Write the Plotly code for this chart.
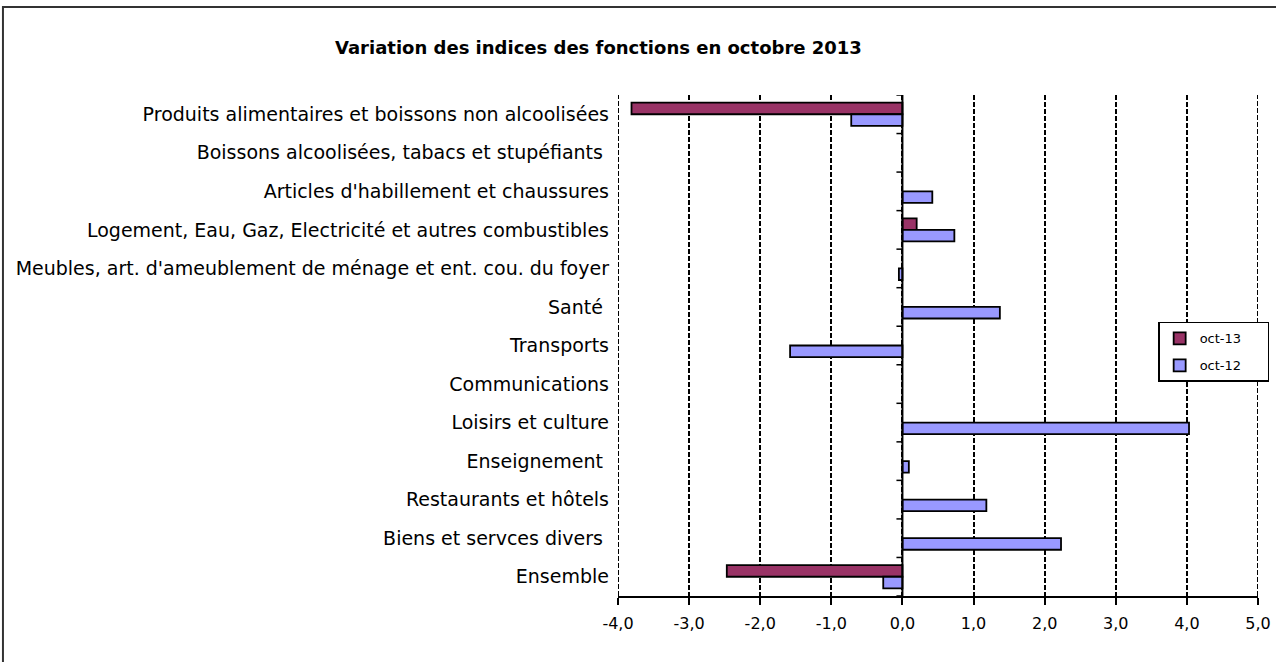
import plotly.graph_objects as go

categories = [
    "Produits alimentaires et boissons non alcoolisées",
    "Boissons alcoolisées, tabacs et stupéfiants\u00a0",
    "Articles d'habillement et chaussures",
    "Logement, Eau, Gaz, Electricité et autres combustibles",
    "Meubles, art. d'ameublement de ménage et ent. cou. du foyer",
    "Santé\u00a0",
    "Transports",
    "Communications",
    "Loisirs et culture",
    "Enseignement\u00a0",
    "Restaurants et hôtels",
    "Biens et servces divers\u00a0",
    "Ensemble",
]
oct13 = [-3.81, None, None, 0.20, None, None, None, None, None, None, None, None, -2.47]
oct12 = [-0.72, None, 0.42, 0.73, -0.05, 1.37, -1.58, None, 4.03, 0.09, 1.18, 2.23, -0.27]

series_names = ["oct-13", "oct-12"]
xtick_vals = [-4, -3, -2, -1, 0, 1, 2, 3, 4, 5]
xtick_labels = ["-4,0", "-3,0", "-2,0", "-1,0", "0,0", "1,0", "2,0", "3,0", "4,0", "5,0"]

FONT = "DejaVu Sans, Liberation Sans, Arial, sans-serif"
PAD = "\u00a0" * 5

fig = go.Figure()
fig.add_trace(go.Bar(
    name=series_names[0] + PAD, y=categories, x=oct13, orientation="h", legendgroup="a",
    marker=dict(color="#993366", line=dict(color="black", width=1.8)),
))
fig.add_trace(go.Bar(
    name=series_names[1] + PAD, y=categories, x=oct12, orientation="h", legendgroup="b",
    marker=dict(color="#9999FF", line=dict(color="black", width=1.8)),
))

shapes = []
# dashed gridlines at the two edge ticks (plotly omits grid at range ends)
for v in (xtick_vals[0], xtick_vals[-1]):
    shapes.append(dict(type="line", xref="x", yref="paper", x0=v, x1=v, y0=0, y1=1,
                       line=dict(color="black", width=2, dash="5px,2px"), layer="below"))
# vertical category axis at x = 0
shapes.append(dict(type="line", xref="x", yref="paper", x0=0, x1=0, y0=0, y1=1,
                   line=dict(color="black", width=2), layer="above"))
# tick marks on the category axis (category boundaries)
for i in range(len(categories) + 1):
    shapes.append(dict(type="line", xref="x", yref="y", xsizemode="pixel", xanchor=0,
                       x0=-6, x1=0, y0=i - 0.5, y1=i - 0.5,
                       line=dict(color="black", width=1.5), layer="above"))
# outer chart frame (left and top edges visible)
shapes.append(dict(type="rect", xref="paper", yref="paper",
                   x0=-0.961, x1=1.08, y0=-0.25, y1=1.1756,
                   line=dict(color="#333333", width=2), layer="below"))

fig.update_layout(
    width=1276, height=662, autosize=False,
    margin=dict(l=618, r=18, t=95, b=66, autoexpand=False),
    paper_bgcolor="white", plot_bgcolor="white",
    font=dict(family=FONT, color="black"),
    title=dict(text="<b>Variation des indices des fonctions en octobre 2013</b>",
               x=0.469, xanchor="center", y=0.9275, yanchor="middle",
               font=dict(family=FONT, size=18, color="black")),
    barmode="group", bargap=0.4, bargroupgap=0,
    showlegend=True,
    legend=dict(x=0.844, y=0.547, xanchor="left", yanchor="top",
                bordercolor="black", borderwidth=1.5, bgcolor="white",
                font=dict(family=FONT, size=13), itemwidth=30,
                traceorder="grouped", tracegroupgap=7),
    shapes=shapes,
)
fig.update_xaxes(
    range=[-4, 5], tickvals=xtick_vals, ticktext=xtick_labels, automargin=False,
    showgrid=True, gridcolor="black", gridwidth=2, griddash="5px,2px",
    zeroline=False, showline=True, linecolor="black", linewidth=2,
    ticks="outside", ticklen=7, tickcolor="black", tickwidth=1.5,
    ticklabelstandoff=5,
    tickfont=dict(family=FONT, size=16),
)
fig.update_yaxes(
    categoryorder="array", categoryarray=categories, automargin=False,
    range=[12.5, -0.5], showgrid=False, zeroline=False, showline=False,
    ticks="", ticklabelstandoff=8,
    tickfont=dict(family=FONT, size=19),
)

fig.write_html("out.html", post_script="document.body.style.margin='0';",
               config={"displayModeBar": False})
